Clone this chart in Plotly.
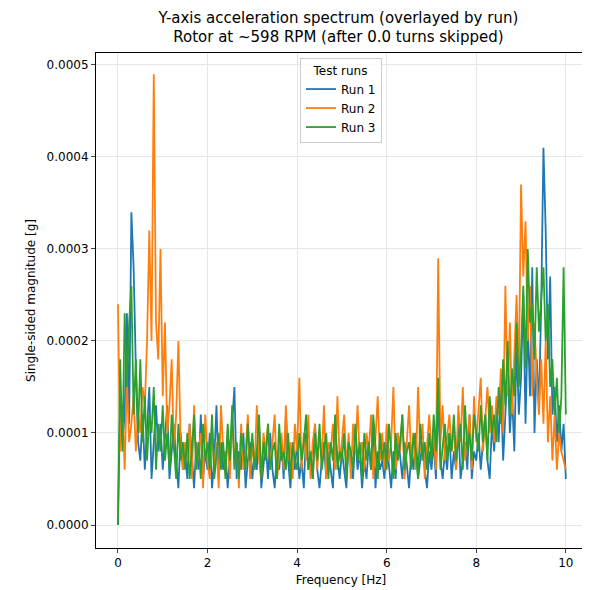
import plotly.graph_objects as go

freq = [i * 0.05 for i in range(201)]
run1 = [0,14,9,12,23,11,34,28,17,9, 7,12,6,10,15,5,9,13,8,11, 6,9,13,5,8,11,7,4,10,6, 8,5,11,7,4,9,6,12,5,8,
        6,10,4,7,13,5,9,6,8,4, 7,11,15,5,8,6,10,4,7,9, 5,8,6,11,4,7,9,5,10,6, 4,8,6,9,5,12,7,4,8,6,
        9,5,7,4,10,6,8,5,11,6, 4,7,9,5,8,6,4,10,7,5, 8,6,4,9,7,5,10,6,8,4, 7,5,9,6,11,4,8,6,7,5,
        9,6,4,8,5,10,7,5,9,6, 4,8,6,10,5,7,9,6,4,8, 6,9,5,14,7,5,8,6,10,5, 8,6,11,5,7,9,6,12,5,8,
        7,10,6,9,12,7,5,11,8,13, 9,15,7,12,18,10,14,8,20,12, 16,25,11,22,14,28,10,18,13,24, 41,32,18,27,12,15,9,13,8,11, 5]
run2 = [24,8,13,6,16,9,11,14,8,12, 10,15,13,20,32,20,49,22,18,30, 14,22,10,13,18,8,12,20,9,6, 9,7,11,5,13,6,8,10,4,12,
        7,5,11,6,9,4,13,8,6,10, 5,12,7,9,4,11,6,8,12,5, 9,6,13,7,5,10,8,11,6,9, 12,5,8,10,6,13,7,9,5,11,
        8,16,6,10,7,12,5,9,11,6, 10,7,13,5,9,8,11,6,14,7, 9,12,6,10,5,11,8,13,7,9, 6,10,8,12,5,9,14,7,10,6,
        11,7,9,15,6,10,8,12,5,9, 13,7,10,6,15,8,11,5,9,12, 8,10,6,29,9,13,7,10,12,8, 11,6,13,9,15,7,10,12,6,14,
        9,12,16,8,11,15,10,13,9,14, 12,17,10,26,14,22,12,18,25,16, 37,27,33,20,26,14,22,16,12,18, 11,20,9,14,7,12,6,10,8,7, 6]
run3 = [0,18,8,23,15,22,26,12,18,10, 18,9,14,7,12,10,15,6,11,8, 13,7,10,6,12,8,5,11,7,9, 6,10,5,8,12,6,9,5,11,7,
        9,6,12,5,8,10,6,9,5,11, 7,13,6,9,5,10,8,6,11,7, 10,6,8,12,5,9,7,11,6,8, 9,5,11,7,8,6,10,5,9,7,
        6,10,7,9,12,6,8,5,10,7, 11,6,8,10,5,9,7,12,6,8, 7,10,5,9,8,6,11,7,9,5, 10,7,9,6,12,8,5,10,7,9,
        6,11,8,5,10,7,9,12,6,8, 9,6,10,8,5,11,7,9,6,10, 7,12,8,16,6,9,11,7,10,8, 12,7,9,11,6,13,8,10,7,12,
        10,8,13,9,12,7,14,10,12,9, 15,11,18,13,20,12,17,14,22,15, 19,26,17,30,22,24,18,28,21,25, 28,20,24,15,18,12,16,10,14,28, 12]
scale = 1e-5
series = [("Run 1", run1, "#1f77b4"), ("Run 2", run2, "#ff7f0e"), ("Run 3", run3, "#2ca02c")]

fig = go.Figure()
for name, vals, col in series:
    fig.add_trace(go.Scatter(x=freq, y=[v * scale for v in vals], mode="lines", name=name,
                             line=dict(color=col, width=1.8)))

ax = dict(showline=True, linecolor="black", mirror=True, ticks="outside", ticklen=4,
          showgrid=True, gridcolor="#e6e6e6", zeroline=False, tickfont=dict(size=12))
fig.update_layout(
    width=590, height=590, plot_bgcolor="white", paper_bgcolor="white",
    font=dict(family="DejaVu Sans", size=12, color="black"),
    title=dict(text="Y-axis acceleration spectrum (overlayed by run)<br>Rotor at ~598 RPM (after 0.0 turns skipped)",
               x=0.56, xanchor="center", y=0.975, font=dict(size=15)),
    margin=dict(l=88, r=12, t=45, b=50),
    xaxis=dict(ax, range=[-0.49, 10.45], dtick=2, title=dict(text="Frequency [Hz]", standoff=6, font=dict(size=12))),
    yaxis=dict(ax, range=[-0.000025, 0.000513], dtick=0.0001, tickformat=".4f",
               title=dict(text="Single-sided magnitude [g]", standoff=8, font=dict(size=12))),
    legend=dict(x=0.5, xanchor="center", y=0.99, yanchor="top", bordercolor="#cccccc", borderwidth=1,
                bgcolor="rgba(255,255,255,0.8)", font=dict(size=12),
                title=dict(text="Test runs", side="top center", font=dict(size=12))),
)
fig.write_html("out.html")
